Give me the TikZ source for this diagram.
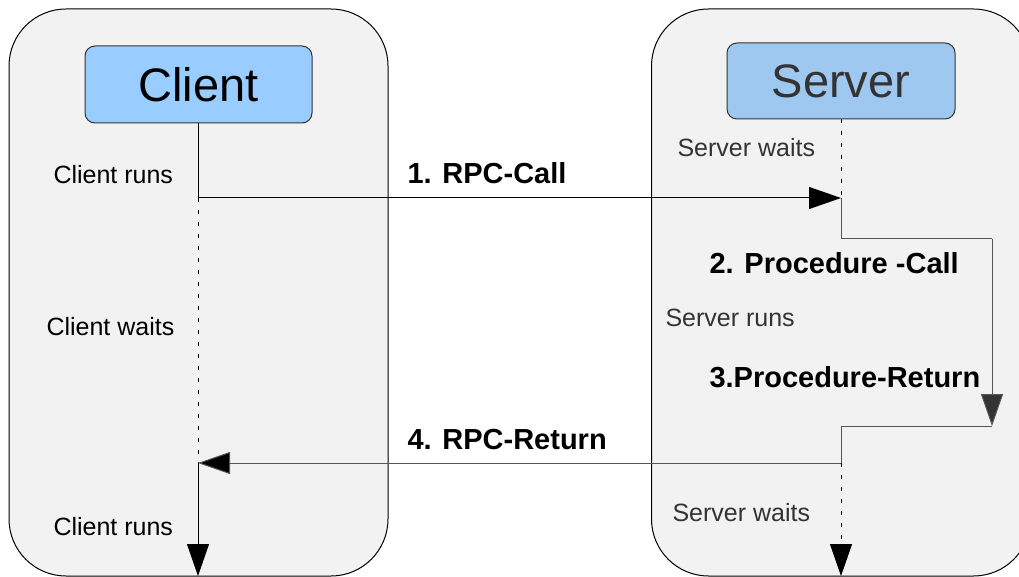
\documentclass[tikz,border=0pt]{standalone}
\usepackage{fontspec}
\setmainfont{Liberation Sans}
\usetikzlibrary{arrows.meta}
\definecolor{panelfill}{HTML}{F2F2F2}
\definecolor{clientfill}{HTML}{99CCFF}
\definecolor{serverfill}{HTML}{9FC8F0}
\definecolor{servertext}{HTML}{333333}
\definecolor{stepline}{HTML}{555555}
\newcommand\biglbl{\fontsize{47}{56}\selectfont}
\newcommand\smalllbl{\fontsize{25}{30}\selectfont}
\newcommand\boldlbl{\fontsize{29}{34}\selectfont\bfseries}
\begin{document}
\begin{tikzpicture}[x=1pt,y=-1pt,line width=1pt,
  panel/.style={draw=black,fill=panelfill,rounded corners=57pt,minimum width=379pt,minimum height=567pt,inner sep=0pt,outer sep=0pt},
  rolebox/.style={draw=black!80,rounded corners=10pt,inner sep=0pt,outer sep=0pt},
  lbl/.style={anchor=base west,inner sep=0pt,font=\smalllbl},
  blbl/.style={anchor=base west,inner sep=0pt,font=\boldlbl},
  waitline/.style={dash pattern=on 4pt off 8pt},
  tip/.style={-{Triangle[length=32pt,width=22pt]}}
]
\useasboundingbox (0,0) rectangle (1019,577);
\clip (0,0) rectangle (1019,577);
% panels
\node[panel] (lpanel) at (198.5,292.5) {};
\node[panel] (rpanel) at (841,292.5) {};
% role boxes
\node[rolebox,fill=clientfill,minimum width=227pt,minimum height=77pt,font=\biglbl] (client) at (198.5,84.5) {Client};
\node[rolebox,fill=serverfill,minimum width=228pt,minimum height=76pt,font=\biglbl,text=servertext] (server) at (841,81) {Server};
% coordinates
\coordinate (c1) at (198,198);
\coordinate (c4) at (198,463);
\coordinate (cend) at (198,576);
\coordinate (s1) at (841,198);
\coordinate (s2) at (841,239);
\coordinate (s3) at (992,239);
\coordinate (s4) at (992,426);
\coordinate (s5) at (841,426);
\coordinate (s6) at (841,463);
\coordinate (send) at (841,576);
% client lifeline
\draw (client.south -| c1) -- (c1);
\draw[waitline] (c1) -- (c4);
\draw[tip] (c4) -- (cend);
% server lifeline
\draw[waitline] (server.south -| s1) -- (s1);
\draw[tip] (c1) -- (s1);
\draw[stepline] (s1) -- (s2) -- (s3);
\draw[stepline,-{Triangle[length=32pt,width=22pt,fill=servertext]}] (s3) -- (s4);
\draw[stepline] (s4) -- (s5) -- (s6);
\draw[stepline,-{Triangle[length=32pt,width=22pt,fill=black]}] (s6) -- (c4);
\draw[waitline,tip] (s6) -- (send);
% labels
\node[lbl] (lcr1) at (53,184) {Client runs};
\node[lbl] (lcw) at (46,335) {Client waits};
\node[lbl] (lcr2) at (53,535.5) {Client runs};
\node[lbl,text=servertext] (lsw1) at (677,157) {Server waits};
\node[lbl,text=servertext] (lsr) at (665,326) {Server runs};
\node[lbl,text=servertext] (lsw2) at (672,521) {Server waits};
\node[blbl] (m1) at (407,184) {1. RPC-Call};
\node[blbl] (m2) at (709,273) {2. Procedure -Call};
\node[blbl] (m3) at (709,387) {3.Procedure-Return};
\node[blbl] (m4) at (407,449) {4. RPC-Return};
\end{tikzpicture}
\end{document}
